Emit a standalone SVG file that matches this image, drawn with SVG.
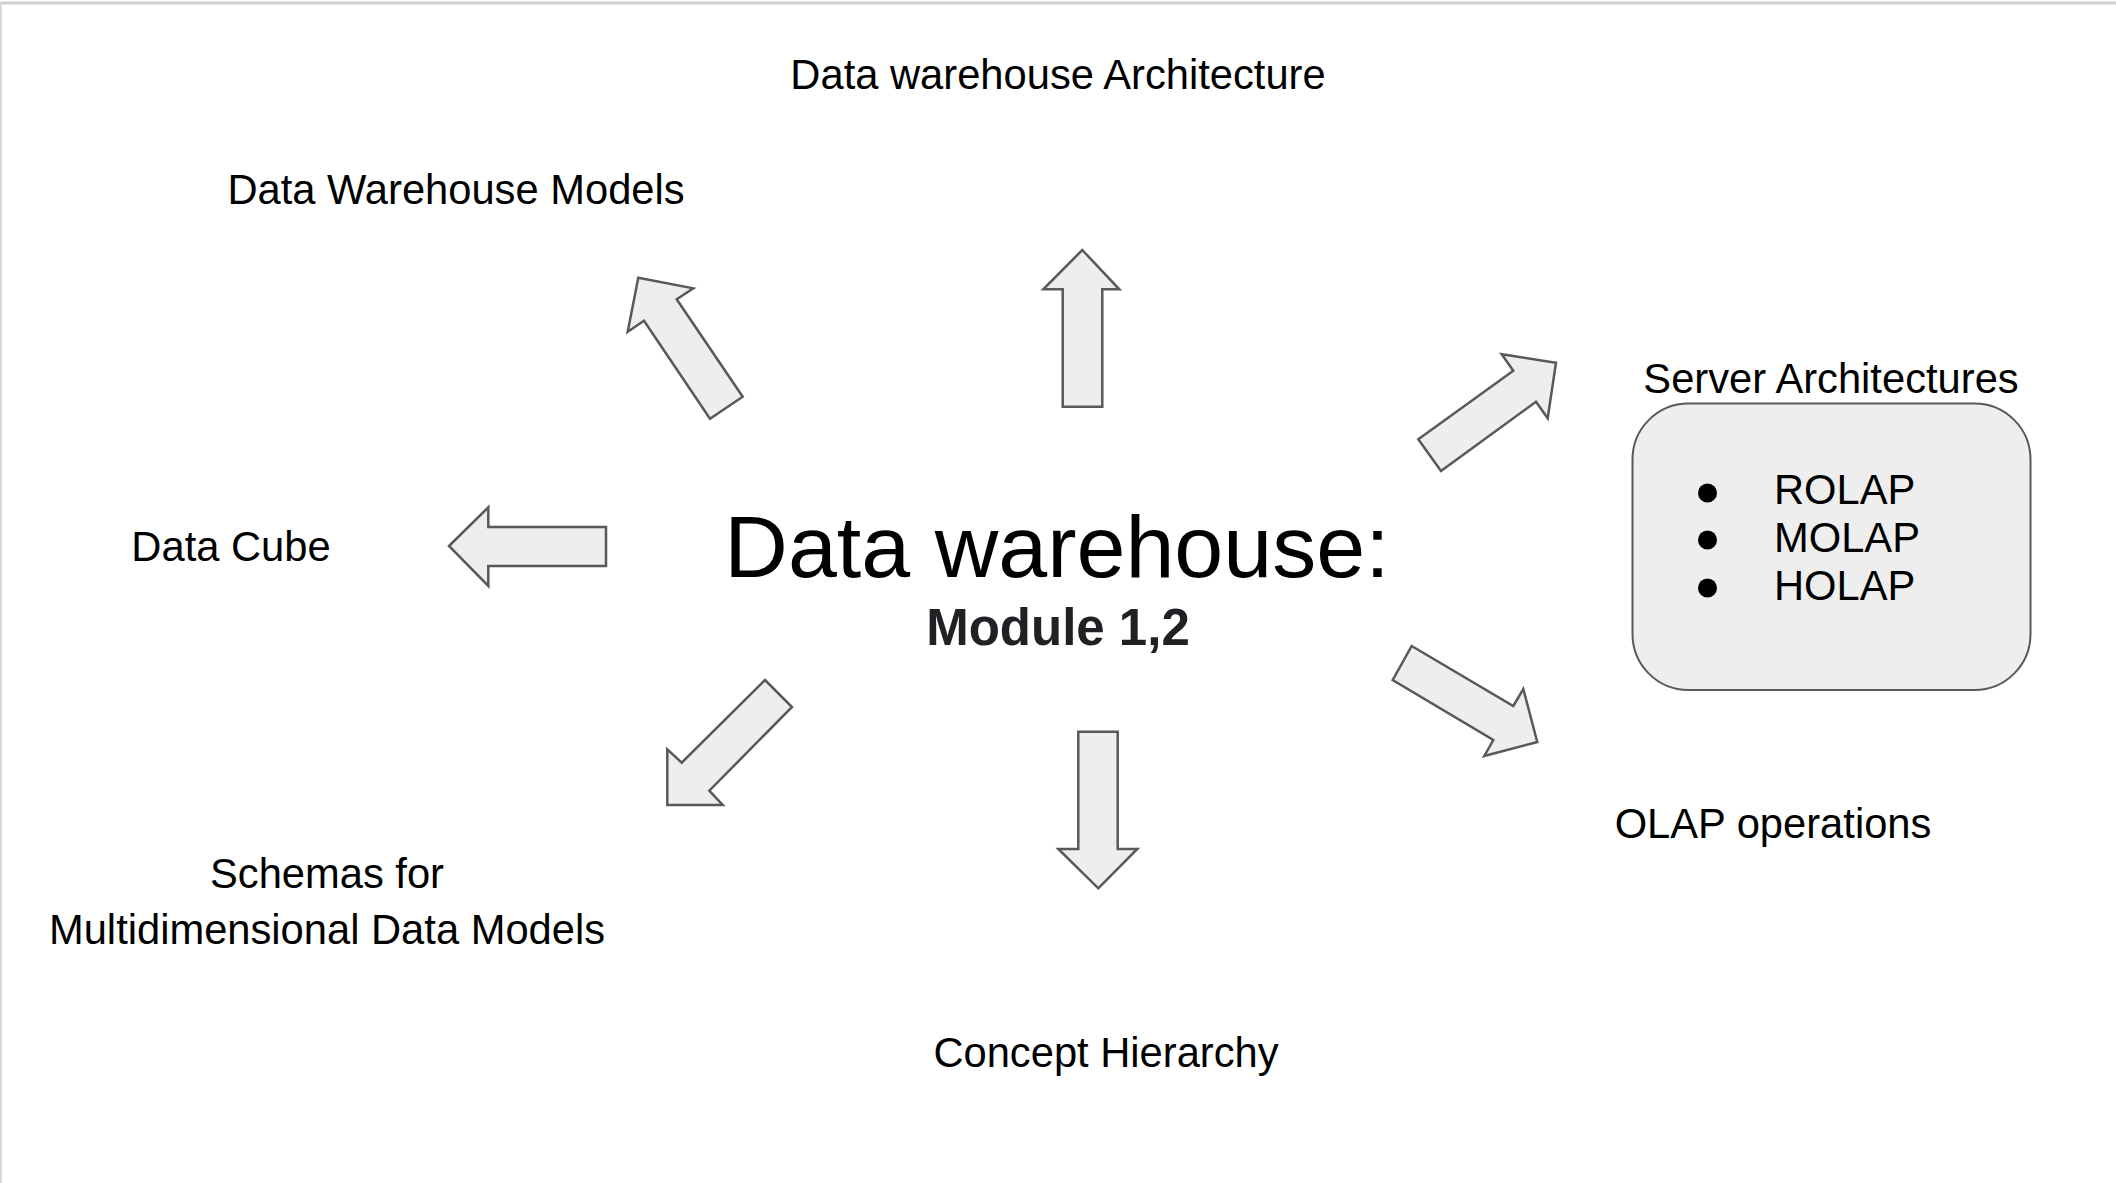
<svg xmlns="http://www.w3.org/2000/svg" width="2116" height="1183" viewBox="0 0 2116 1183">
<style>
.lbl{font-family:"Liberation Sans",Arial,sans-serif;font-size:41.7px;fill:#000}
.arr{fill:#eeeeee;stroke:#595959;stroke-width:2.5;stroke-linejoin:miter}
.mid{text-anchor:middle}
</style>
<rect x="0" y="0" width="2116" height="1183" fill="#ffffff"/>
<line x1="0" y1="3" x2="2116" y2="3" stroke="#d0d0d0" stroke-width="3"/>
<line x1="1" y1="3" x2="1" y2="1183" stroke="#d9d9d9" stroke-width="2"/>

<g id="center">
<text x="1057" y="577" class="mid" font-family="Liberation Sans,Arial,sans-serif" font-size="88" fill="#000">Data warehouse:</text>
<text x="1058" y="645" class="mid" font-family="Liberation Sans,Arial,sans-serif" font-size="51" font-weight="bold" fill="#202124">Module 1,2</text>
</g>

<g id="n-architecture"><text x="1058" y="89" class="lbl mid">Data warehouse Architecture</text></g>
<g id="n-models"><text x="456" y="204" class="lbl mid">Data Warehouse Models</text></g>
<g id="n-cube"><text x="231" y="561" class="lbl mid">Data Cube</text></g>
<g id="n-schemas"><text x="327" y="888" class="lbl mid">Schemas for</text><text x="327" y="944" class="lbl mid">Multidimensional Data Models</text></g>
<g id="n-concept"><text x="1106" y="1067" class="lbl mid">Concept Hierarchy</text></g>
<g id="n-olap"><text x="1773" y="838" class="lbl mid">OLAP operations</text></g>
<g id="n-server">
<text x="1831" y="393" class="lbl mid">Server Architectures</text>
<rect x="1632.5" y="403.5" width="398" height="286.5" rx="56" ry="56" fill="#eeeeee" stroke="#595959" stroke-width="2"/>
<circle cx="1707.5" cy="493" r="9.5" fill="#000"/>
<circle cx="1707.5" cy="540" r="9.5" fill="#000"/>
<circle cx="1707.5" cy="588" r="9.5" fill="#000"/>
<text x="1774" y="504" class="lbl">ROLAP</text>
<text x="1774" y="552" class="lbl">MOLAP</text>
<text x="1774" y="600" class="lbl">HOLAP</text>
</g>

<g id="connectors">
<polygon class="arr" points="1082.3,250 1119.3,289.3 1102.3,289.3 1102.3,406.7 1062.7,406.7 1062.7,289.3 1043.3,289.3"/>
<polygon class="arr" points="1078.3,731.7 1117.7,731.7 1117.7,849 1137.3,849 1098.3,888.3 1058.3,849 1078.3,849"/>
<polygon class="arr" points="449,546 488.3,507.3 488.3,527 606,527 606,566 488.3,566 488.3,586"/>
<polygon class="arr" points="638.3,277.7 693.3,288.3 676.7,299.3 742.7,396.7 710,418.7 644,320.7 627.7,331.7"/>
<polygon class="arr" points="1556,362.7 1547.7,418.3 1536,401.7 1441,471 1418.3,439.3 1513.3,370.7 1501.7,354.3"/>
<polygon class="arr" points="1411.7,646 1513.3,706 1523.3,689 1537.3,742 1484.3,756 1493.3,740 1392.7,680"/>
<polygon class="arr" points="765,680 792,707 709.3,790.7 722.7,805 667.3,805 667.3,749.3 681.7,762.7"/>
</g>
</svg>
